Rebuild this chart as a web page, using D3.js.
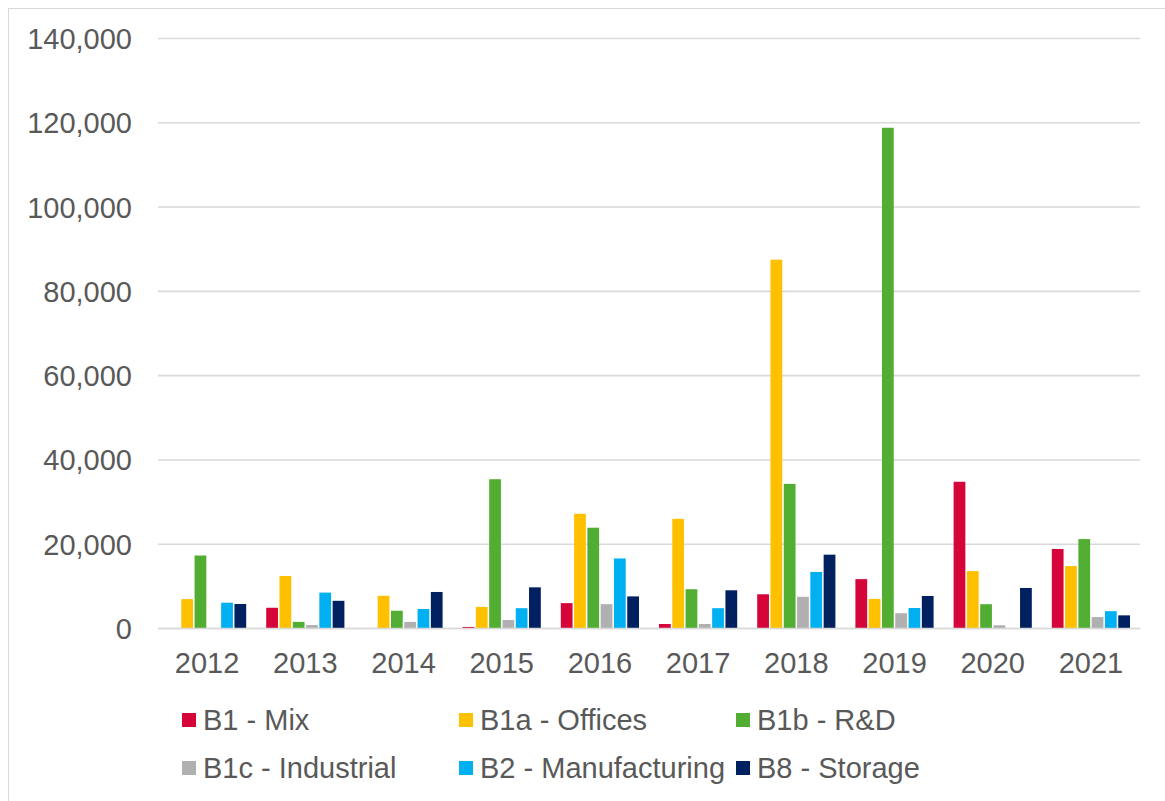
<!DOCTYPE html>
<html>
<head>
<meta charset="utf-8">
<script src="https://cdn.jsdelivr.net/npm/d3@7"></script>
<style>
  body { margin: 0; background: #fff; }
  text { font-family: "Liberation Sans", Arial, sans-serif; fill: #595959; }
</style>
</head>
<body>
<div id="chart"></div>
<script>
// data
var years = ["2012", "2013", "2014", "2015", "2016", "2017", "2018", "2019", "2020", "2021"];
var seriesNames = ["B1 - Mix", "B1a - Offices", "B1b - R&D", "B1c - Industrial", "B2 - Manufacturing", "B8 - Storage"];
var seriesColors = ["#d5053a", "#ffc000", "#52ae32", "#b0b0b0", "#00b0f0", "#002060"];

var mix        = [0, 4800, 0, 250, 5900, 950, 8000, 11600, 34700, 18750];
var offices    = [6850, 12350, 7650, 5000, 27100, 25900, 87400, 6900, 13500, 14700];
var rnd        = [17200, 1450, 4100, 35300, 23800, 9200, 34200, 118700, 5650, 21100];
var industrial = [0, 700, 1450, 1900, 5650, 950, 7400, 3500, 650, 2600];
var manufact   = [6000, 8400, 4500, 4700, 16500, 4700, 13300, 4750, 0, 4000];
var storage    = [5700, 6450, 8550, 9650, 7500, 8950, 17400, 7600, 9500, 3000];

var yTicks = [0, 20000, 40000, 60000, 80000, 100000, 120000, 140000];

var allSeries = [mix, offices, rnd, industrial, manufact, storage];

var W = 1165, H = 801;
var plot = { left: 158, right: 1140, top: 38, bottom: 628 };
var fontSize = "29px";

var svg = d3.select("#chart").append("svg")
    .attr("width", W)
    .attr("height", H);

// outer chart border
svg.append("rect")
    .attr("x", 8.5).attr("y", 8.5)
    .attr("width", W + 20).attr("height", H + 20)
    .attr("fill", "none")
    .attr("stroke", "#d9d9d9")
    .attr("stroke-width", 1);

var x0 = d3.scaleBand()
    .domain(years)
    .range([plot.left, plot.right])
    .paddingInner(0).paddingOuter(0);

var x1 = d3.scaleBand()
    .domain(d3.range(seriesNames.length))
    .range([10, x0.bandwidth() - 10])
    .paddingInner(0.115);

var y = d3.scaleLinear()
    .domain([0, 140000])
    .range([plot.bottom, plot.top]);

// gridlines
var yAxis = svg.append("g")
    .attr("transform", "translate(" + plot.left + ",0)")
    .call(d3.axisLeft(y).tickValues(yTicks).tickFormat(d3.format(",")).tickSize(-(plot.right - plot.left)).tickPadding(26));
yAxis.select(".domain").remove();
yAxis.selectAll(".tick line").attr("stroke", "#d9d9d9").attr("stroke-width", 1.6);
yAxis.selectAll(".tick text")
    .style("font-size", fontSize)
    .attr("fill", "#595959")
    .attr("dy", "0.36em");

// bars
var groups = svg.append("g").selectAll("g")
    .data(years)
    .enter().append("g")
    .attr("transform", function(d) { return "translate(" + x0(d) + ",0)"; });

groups.selectAll("rect")
    .data(function(d, i) {
        return allSeries.map(function(s, k) { return { k: k, v: s[i] }; });
    })
    .enter().append("rect")
    .filter(function(d) { return d.v > 0; })
    .attr("x", function(d) { return x1(d.k); })
    .attr("y", function(d) { return y(d.v); })
    .attr("width", x1.bandwidth())
    .attr("height", function(d) { return y(0) - y(d.v); })
    .attr("fill", function(d) { return seriesColors[d.k]; });

// x axis
var xAxis = svg.append("g")
    .attr("transform", "translate(0," + plot.bottom + ")")
    .call(d3.axisBottom(x0).tickSize(0).tickPadding(24));
xAxis.select(".domain").attr("stroke", "#d9d9d9").attr("stroke-width", 1.6);
xAxis.selectAll(".tick text")
    .style("font-size", fontSize)
    .attr("fill", "#595959");

// legend
var legX = [182, 459, 736];
var legY = [720, 768];
var legend = svg.append("g").selectAll("g")
    .data(seriesNames)
    .enter().append("g")
    .attr("transform", function(d, i) {
        return "translate(" + legX[i % 3] + "," + legY[Math.floor(i / 3)] + ")";
    });
legend.append("rect")
    .attr("x", 0).attr("y", -7)
    .attr("width", 14).attr("height", 14)
    .attr("fill", function(d, i) { return seriesColors[i]; });
legend.append("text")
    .attr("x", 21)
    .attr("dy", "0.36em")
    .style("font-size", fontSize)
    .text(function(d) { return d; });
</script>
</body>
</html>
